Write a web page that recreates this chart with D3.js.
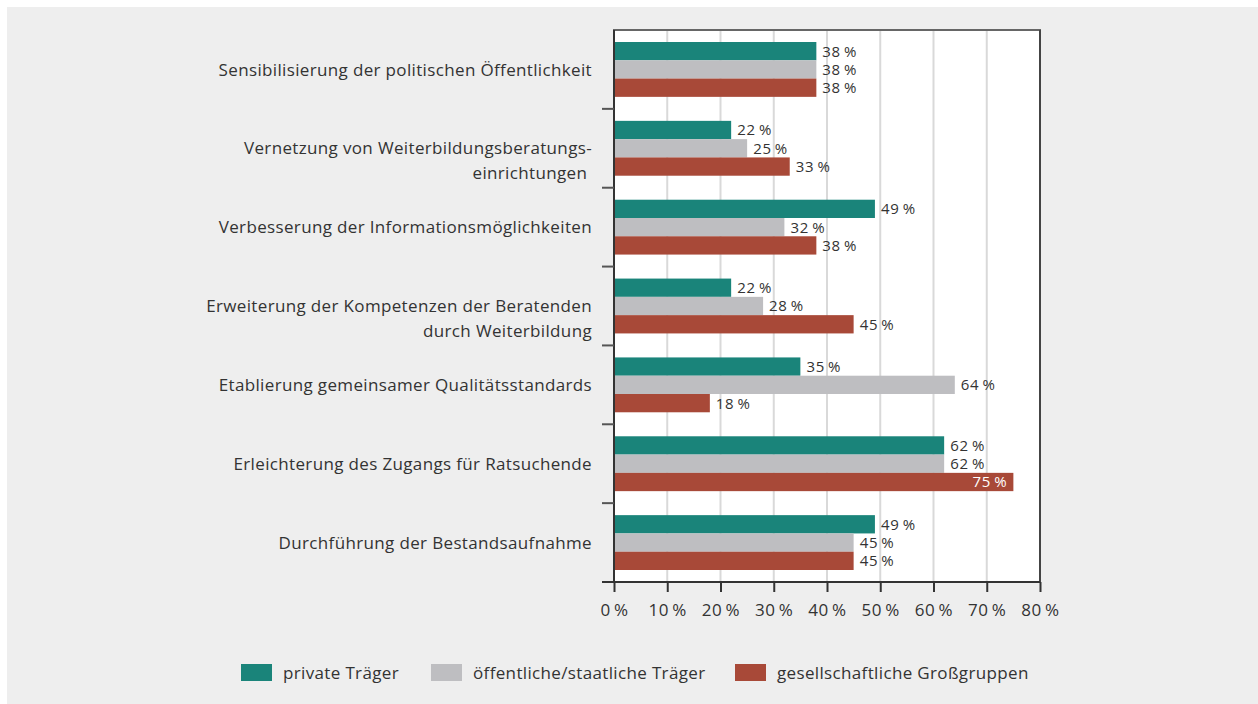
<!DOCTYPE html>
<html>
<head>
<meta charset="utf-8">
<script src="https://cdn.jsdelivr.net/npm/d3@7"></script>
<style>
  html, body { margin: 0; padding: 0; background: #fff; }
  svg { display: block; font-family: "Open Sans", "Noto Sans", sans-serif; }
</style>
</head>
<body>
<svg id="chart" width="1258" height="704"></svg>
<script>
// categories, top to bottom (multi-line labels split by "|")
const categories = [
  "Sensibilisierung der politischen Öffentlichkeit",
  "Vernetzung von Weiterbildungsberatungs-|einrichtungen ",
  "Verbesserung der Informationsmöglichkeiten",
  "Erweiterung der Kompetenzen der Beratenden|durch Weiterbildung",
  "Etablierung gemeinsamer Qualitätsstandards",
  "Erleichterung des Zugangs für Ratsuchende",
  "Durchführung der Bestandsaufnahme"
];
const seriesNames = ["private Träger", "öffentliche/staatliche Träger", "gesellschaftliche Großgruppen"];
const privateVals = [38, 22, 49, 22, 35, 62, 49];
const publicVals = [38, 25, 32, 28, 64, 62, 45];
const groupVals = [38, 33, 38, 45, 18, 75, 45];
const xTicks = [0, 10, 20, 30, 40, 50, 60, 70, 80];
const colors = ["#1a847a", "#bebec1", "#a84938"];

const series = [privateVals, publicVals, groupVals];
const svg = d3.select("#chart");

// background
svg.append("rect").attr("x", 7).attr("y", 7).attr("width", 1251).attr("height", 697).attr("fill", "#eeeeee");

const plotL = 614, plotR = 1040, plotT = 30, plotB = 582;

const x = d3.scaleLinear().domain([0, 80]).range([plotL, plotR]);
const y = d3.scaleBand().domain(d3.range(categories.length)).range([plotT, plotB]);
const inner = d3.scaleBand().domain(d3.range(3)).range([12, y.bandwidth() - 12]).padding(0);

// plot area
svg.append("rect").attr("x", plotL).attr("y", plotT).attr("width", plotR - plotL).attr("height", plotB - plotT).attr("fill", "#fff");

// gridlines
svg.append("g").selectAll("line").data(xTicks.slice(1, -1)).join("line")
  .attr("x1", d => x(d)).attr("x2", d => x(d))
  .attr("y1", plotT).attr("y2", plotB)
  .attr("stroke", "#d9d9d9").attr("stroke-width", 2);

// bars
const groups = svg.append("g").selectAll("g").data(categories).join("g")
  .attr("transform", (d, i) => `translate(0,${y(i)})`);

groups.each(function(c, i) {
  const g = d3.select(this);
  series.forEach((vals, s) => {
    const v = vals[i];
    g.append("rect")
      .attr("x", x(0)).attr("y", inner(s))
      .attr("width", x(v) - x(0)).attr("height", inner.bandwidth())
      .attr("fill", colors[s]);
    const inside = v > 70;
    g.append("text")
      .attr("x", inside ? x(v) - 6 : x(v) + 6)
      .attr("y", inner(s) + inner.bandwidth() / 2)
      .attr("dy", "0.36em")
      .attr("text-anchor", inside ? "end" : "start")
      .attr("fill", inside ? "#fff" : "#333")
      .style("font-size", "15px")
      .style("letter-spacing", "0.7px")
      .text(v + "\u2009%");
  });
});

// category labels
groups.append("text")
  .attr("x", 592)
  .attr("y", y.bandwidth() / 2)
  .attr("text-anchor", "end")
  .attr("fill", "#333")
  .style("font-size", "17px")
  .style("letter-spacing", "0.35px")
  .each(function(d) {
    const t = d3.select(this);
    d.split("|").forEach((line, k) => {
      t.append("tspan").attr("x", 592).attr("dy", k === 0 ? "0.36em" : "1.45em")
        .style("white-space", "pre").text(line);
    });
  });

// axes
const axisColor = "#555";
// top border
svg.append("line").attr("x1", plotL - 1).attr("x2", plotR + 1).attr("y1", plotT).attr("y2", plotT)
  .attr("stroke", "#666").attr("stroke-width", 2);
// right border
svg.append("line").attr("x1", plotR).attr("x2", plotR).attr("y1", plotT).attr("y2", plotB)
  .attr("stroke", "#444").attr("stroke-width", 2);

// left axis with ticks at band boundaries
svg.append("line").attr("x1", plotL).attr("x2", plotL).attr("y1", plotT).attr("y2", plotB)
  .attr("stroke", "#333").attr("stroke-width", 2);
svg.append("g").selectAll("line").data(d3.range(1, categories.length)).join("line")
  .attr("x1", plotL - 12).attr("x2", plotL)
  .attr("y1", d => y(d)).attr("y2", d => y(d))
  .attr("stroke", axisColor).attr("stroke-width", 2);

// bottom axis
const xAxis = d3.axisBottom(x).tickValues(xTicks).tickSize(10).tickSizeOuter(0)
  .tickFormat(d => d + "\u2009%");
const gx = svg.append("g").attr("transform", `translate(0,${plotB})`).call(xAxis);
gx.select(".domain").attr("d", `M${plotL - 12},0H${plotR}`).attr("stroke", "#333").attr("stroke-width", 2);
gx.selectAll(".tick line").attr("stroke", "#333").attr("stroke-width", 2);
gx.selectAll(".tick text").attr("y", 22).attr("fill", "#333")
  .style("font-size", "17px").style("letter-spacing", "0.5px")
  .style("font-family", "\"Open Sans\", \"Noto Sans\", sans-serif");

// legend
const legendX = [241, 431, 735];
const legend = svg.append("g").selectAll("g").data(seriesNames).join("g")
  .attr("transform", (d, i) => `translate(${legendX[i]},664)`);
legend.append("rect").attr("width", 31).attr("height", 17).attr("fill", (d, i) => colors[i]);
legend.append("text").attr("x", 42).attr("y", 8.5).attr("dy", "0.36em")
  .attr("fill", "#333").style("font-size", "17px").style("letter-spacing", "0.35px").text(d => d);
</script>
</body>
</html>
